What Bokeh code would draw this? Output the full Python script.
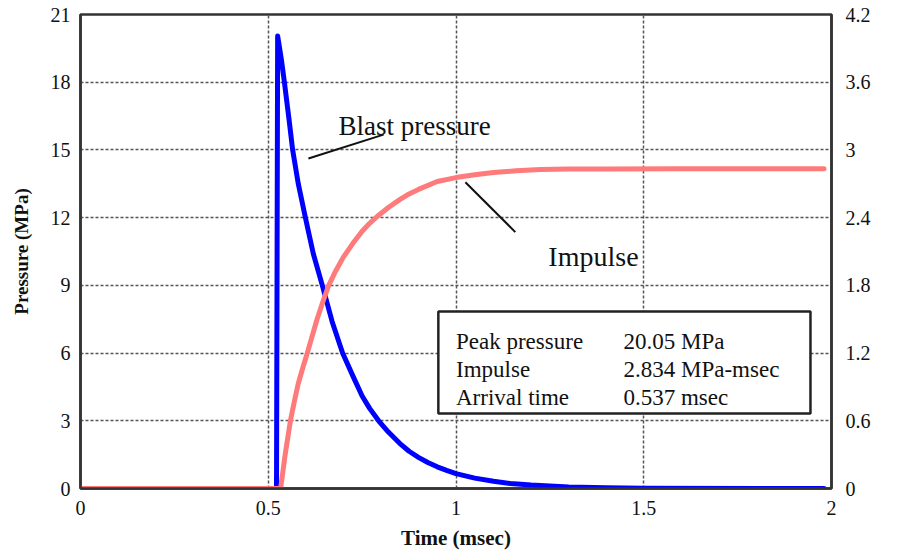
import math
from bokeh.plotting import figure
from bokeh.models import Range1d, LinearAxis, FixedTicker, BoxAnnotation, Label
from bokeh.embed import file_html
from bokeh.resources import INLINE

# ---- data ----
time_p = [0, 0.522, 0.525, 0.535, 0.543, 0.555, 0.565, 0.58, 0.599, 0.62, 0.644, 0.67, 0.698, 0.725, 0.75,
          0.77, 0.794, 0.82, 0.85, 0.875, 0.90, 0.925, 0.95, 0.975, 1.0, 1.05, 1.10, 1.145, 1.20, 1.30, 1.40, 1.50, 1.98]
pressure = [0, 0, 20.05, 19.0, 18.0, 16.4, 15.0, 13.5, 12.0, 10.4, 9.0, 7.4, 6.0, 5.0, 4.1,
            3.55, 3.0, 2.5, 2.0, 1.65, 1.38, 1.15, 0.96, 0.8, 0.66, 0.46, 0.32, 0.22, 0.15, 0.07, 0.03, 0.01, 0]

time_i = [0, 0.533, 0.545, 0.559, 0.57, 0.58, 0.592, 0.604, 0.617, 0.63, 0.645, 0.661, 0.68, 0.70, 0.725, 0.75,
          0.77, 0.79, 0.82, 0.85, 0.875, 0.90, 0.95, 1.0, 1.05, 1.10, 1.16, 1.225, 1.30, 1.40, 1.60, 1.98]
impulse = [0, 0, 0.3, 0.6, 0.78, 0.93, 1.07, 1.2, 1.35, 1.5, 1.65, 1.8, 1.93, 2.05, 2.17, 2.28,
           2.35, 2.41, 2.49, 2.56, 2.61, 2.65, 2.72, 2.755, 2.78, 2.80, 2.815, 2.826, 2.83, 2.832, 2.834, 2.834]

x_ticks = [0, 0.5, 1, 1.5, 2]
x_tick_labels = ["0", "0.5", "1", "1.5", "2"]
p_ticks = [0, 3, 6, 9, 12, 15, 18, 21]
p_tick_labels = ["0", "3", "6", "9", "12", "15", "18", "21"]
i_ticks = [0, 0.6, 1.2, 1.8, 2.4, 3.0, 3.6, 4.2]
i_tick_labels = ["0", "0.6", "1.2", "1.8", "2.4", "3", "3.6", "4.2"]

box_names = ["Peak pressure", "Impulse", "Arrival time"]
box_values = ["20.05 MPa", "2.834 MPa-msec", "0.537 msec"]

SERIF = "Liberation Serif"
AXC = "#333333"

p = figure(width=920, height=558, output_backend="svg", toolbar_location=None,
           x_range=Range1d(0, 2), y_range=Range1d(0, 21),
           min_border_left=80, min_border_right=89, min_border_top=14, min_border_bottom=70)
p.extra_y_ranges = {"imp": Range1d(0, 4.2)}
p.background_fill_color = "white"
p.border_fill_color = "white"
p.outline_line_color = AXC
p.outline_line_width = 2.5

def style_axis(ax, ticks, labels, title, title_size="19px"):
    ax.ticker = FixedTicker(ticks=ticks)
    ax.major_label_overrides = {t: l for t, l in zip(ticks, labels)}
    if title:
        ax.axis_label = title
    ax.axis_label_text_font = SERIF
    ax.axis_label_text_font_style = "bold"
    ax.axis_label_text_font_size = title_size
    ax.axis_label_text_color = "#111111"
    ax.major_label_text_font = SERIF
    ax.major_label_text_font_size = "20px"
    ax.major_label_text_color = "#111111"
    ax.major_tick_out = 0
    ax.major_tick_in = 0
    ax.minor_tick_out = 0
    ax.minor_tick_in = 0
    ax.axis_line_color = AXC
    ax.axis_line_width = 2.5

style_axis(p.xaxis[0], x_ticks, x_tick_labels, "Time (msec)", "21px")
p.xaxis[0].major_label_standoff = 12
p.xaxis[0].axis_label_standoff = 8
style_axis(p.yaxis[0], p_ticks, p_tick_labels, "Pressure (MPa)")
p.yaxis[0].major_label_standoff = 10
p.yaxis[0].axis_label_standoff = 16

ax_r = LinearAxis(y_range_name="imp")
style_axis(ax_r, i_ticks, i_tick_labels, None)
ax_r.major_label_standoff = 14
p.add_layout(ax_r, "right")

# right axis title, reading bottom to top, placed in the right side panel
p.add_layout(Label(x=72, y=238, x_units="screen", y_units="screen", text="Impulse (MPa-msec)",
                   angle=math.pi / 2, text_align="center", text_baseline="middle", text_font=SERIF,
                   text_font_style="bold", text_font_size="19px", text_color="#111111"), "right")

for g in (p.xgrid[0], p.ygrid[0]):
    g.grid_line_color = "#555555"
    g.grid_line_width = 1.5
    g.grid_line_dash = "3 2"
p.xgrid[0].ticker = FixedTicker(ticks=x_ticks)
p.ygrid[0].ticker = FixedTicker(ticks=p_ticks)

p.line(time_p, pressure, line_color="#0000FF", line_width=5, line_cap="round", line_join="round")
p.line(time_i, impulse, y_range_name="imp", line_color="#FF7A7A", line_width=5, line_cap="round", line_join="round")

# pointer lines
p.line([0.607, 0.807], [14.62, 15.68], line_color="#111111", line_width=2)
p.line([1.025, 1.158], [13.57, 11.36], line_color="#111111", line_width=2)

p.add_layout(Label(x=0.687, y=16.04, text="Blast pressure", text_font=SERIF,
                   text_font_size="27px", text_color="#111111", text_baseline="alphabetic"))
p.add_layout(Label(x=1.246, y=10.28, text="Impulse", text_font=SERIF,
                   text_font_size="28px", text_color="#111111", text_baseline="alphabetic"))

p.add_layout(BoxAnnotation(left=0.953, right=1.944, bottom=3.32, top=7.84,
                           fill_color="white", fill_alpha=1.0, line_color="#222222",
                           line_alpha=1.0, line_width=2.5))
rows_y = [6.53, 5.27, 4.01]
for name, val, yy in zip(box_names, box_values, rows_y):
    p.add_layout(Label(x=1.0, y=yy, text=name, text_font=SERIF, text_font_size="23px",
                       text_color="#111111", text_baseline="alphabetic"))
    p.add_layout(Label(x=1.446, y=yy, text=val, text_font=SERIF, text_font_size="23px",
                       text_color="#111111", text_baseline="alphabetic"))

open("out.html", "w").write(file_html(p, INLINE))
